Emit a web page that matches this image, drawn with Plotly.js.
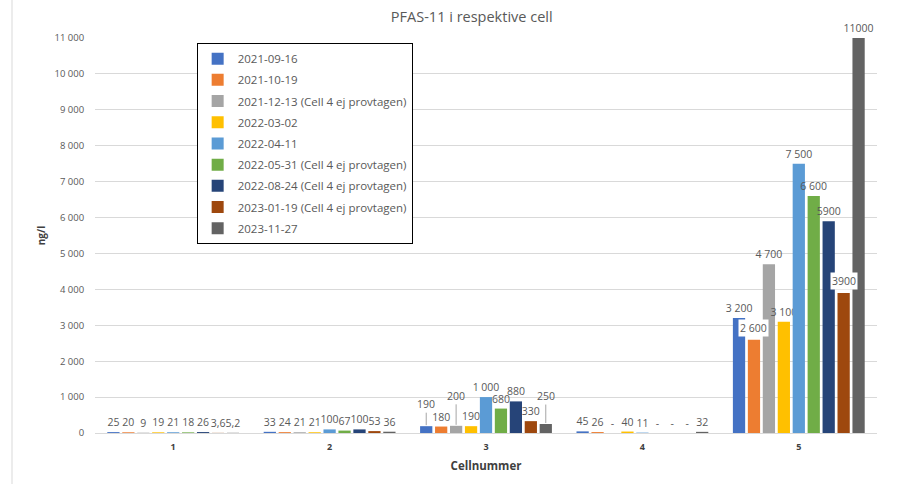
<!DOCTYPE html>
<html>
<head>
<meta charset="utf-8">
<script src="https://cdn.plot.ly/plotly-3.0.1.min.js"></script>
<style>html,body{margin:0;padding:0;background:#fff;}#chart{width:902px;height:484px;}</style>
</head>
<body>
<div id="chart"></div>
<script>
const categories = ['1', '2', '3', '4', '5'];

const seriesNames = [
  '2021-09-16',
  '2021-10-19',
  '2021-12-13 (Cell 4 ej provtagen)',
  '2022-03-02',
  '2022-04-11',
  '2022-05-31 (Cell 4 ej provtagen)',
  '2022-08-24 (Cell 4 ej provtagen)',
  '2023-01-19 (Cell 4 ej provtagen)',
  '2023-11-27'
];

const s20210916 = [25, 33, 190, 45, 3200];
const s20211019 = [20, 24, 180, 26, 2600];
const s20211213 = [9, 21, 200, 0, 4700];
const s20220302 = [19, 21, 190, 40, 3100];
const s20220411 = [21, 100, 1000, 11, 7500];
const s20220531 = [18, 67, 680, 0, 6600];
const s20220824 = [26, 100, 880, 0, 5900];
const s20230119 = [3.6, 53, 330, 0, 3900];
const s20231127 = [5.2, 36, 250, 32, 11000];

const l20210916 = ['25', '33', '190', '45', '3 200'];
const l20211019 = ['20', '24', '180', '26', '2 600'];
const l20211213 = ['9', '21', '200', '-', '4 700'];
const l20220302 = ['19', '21', '190', '40', '3 100'];
const l20220411 = ['21', '100', '1 000', '11', '7 500'];
const l20220531 = ['18', '67', '680', '-', '6 600'];
const l20220824 = ['26', '100', '880', '-', '5900'];
const l20230119 = ['3,6', '53', '330', '-', '3900'];
const l20231127 = ['5,2', '36', '250', '32', '11000'];

const yTickVals = [0, 1000, 2000, 3000, 4000, 5000, 6000, 7000, 8000, 9000, 10000, 11000];

const values = [s20210916, s20211019, s20211213, s20220302, s20220411, s20220531, s20220824, s20230119, s20231127];
const labels = [l20210916, l20211019, l20211213, l20220302, l20220411, l20220531, l20220824, l20230119, l20231127];
const colors = ['#4472C4', '#ED7D31', '#A5A5A5', '#FFC000', '#5B9BD5', '#70AD47', '#264478', '#9E480E', '#636363'];

// labels drawn with leader lines (series index, category index, pixel rise)
const leaders = [[0, 2, 22], [2, 2, 30], [8, 2, 28]];
// labels drawn on a white box (series index, category index)
const boxed = [[1, 4], [7, 4]];

const FONT = 'Open Sans, Lato, sans-serif';
const labelColor = '#595959';
const LBL = 10.5;

const isIn = (list, i, j) => list.some(l => l[0] === i && l[1] === j);

const traces = values.map((v, i) => {
  const txt = labels[i].map((t, j) => (isIn(leaders, i, j) || isIn(boxed, i, j)) ? '' : t);
  return {
    type: 'bar',
    name: seriesNames[i],
    legendgroup: 'g' + i,
    x: categories,
    y: v,
    text: txt,
    textposition: 'outside',
    textfont: {family: FONT, size: LBL, color: labelColor},
    constraintext: 'none',
    cliponaxis: false,
    marker: {color: colors[i]},
    hoverinfo: 'skip'
  };
});

const plotW = 782;
const bargap = 0.14;
const catW = plotW / categories.length;
const pitch = catW * (1 - bargap) / values.length;
const shiftOf = si => (si - (values.length - 1) / 2) * pitch;

const annotations = leaders.map(([si, ci, rise]) => ({
  x: ci,
  y: values[si][ci],
  xref: 'x', yref: 'y',
  xshift: shiftOf(si),
  text: labels[si][ci],
  showarrow: true,
  arrowhead: 0,
  arrowwidth: 1,
  arrowcolor: '#A6A6A6',
  ax: 0,
  ay: -rise,
  standoff: 1,
  font: {family: FONT, size: LBL, color: labelColor}
})).concat(boxed.map(([si, ci]) => ({
  x: ci,
  y: values[si][ci],
  xref: 'x', yref: 'y',
  xshift: shiftOf(si),
  yshift: 3,
  yanchor: 'bottom',
  text: labels[si][ci],
  showarrow: false,
  bgcolor: '#ffffff',
  borderpad: 1,
  font: {family: FONT, size: LBL, color: labelColor}
})));

const layout = {
  width: 902,
  height: 484,
  margin: {l: 95, r: 25, t: 38, b: 51},
  paper_bgcolor: '#ffffff',
  plot_bgcolor: '#ffffff',
  separators: ', ',
  font: {family: FONT, color: labelColor},
  title: {
    text: 'PFAS-11 i respektive cell',
    font: {family: FONT, size: 14.5, color: labelColor},
    x: 0.523, xanchor: 'center',
    y: 0.965, yanchor: 'middle'
  },
  barmode: 'group',
  bargap: bargap,
  bargroupgap: 0.18,
  showlegend: true,
  legend: {
    x: 0.13, y: 0.987, xanchor: 'left', yanchor: 'top',
    bgcolor: '#ffffff',
    bordercolor: '#000000',
    borderwidth: 1,
    font: {family: FONT, size: 11.5, color: labelColor},
    tracegroupgap: 2.2,
    traceorder: 'grouped'
  },
  xaxis: {
    type: 'category',
    tickfont: {family: FONT, size: 9, color: '#404040', weight: 'bold'},
    showgrid: false,
    showline: true,
    linecolor: '#D9D9D9',
    linewidth: 1,
    ticks: '',
    ticklabelstandoff: 5,
    title: {text: 'Cellnummer', font: {family: FONT, size: 11.5, color: '#404040', weight: 'bold'}, standoff: 10}
  },
  yaxis: {
    range: [0, 11000],
    tickvals: yTickVals,
    tickformat: ',d',
    tickfont: {family: FONT, size: 9.5, color: labelColor},
    showgrid: true,
    gridcolor: '#D9D9D9',
    gridwidth: 1,
    zeroline: false,
    showline: false,
    ticks: 'outside',
    ticklen: 8,
    tickcolor: 'rgba(0,0,0,0)',
    title: {text: 'ng/l', font: {family: FONT, size: 10, color: '#404040', weight: 'bold'}, standoff: 6}
  },
  annotations: annotations,
  shapes: [{
    type: 'line', xref: 'paper', yref: 'paper',
    x0: (12 - 95) / 782, x1: (12 - 95) / 782,
    y0: -51 / 395, y1: 1 + 38 / 395,
    line: {color: '#D9D9D9', width: 1}
  }]
};

Plotly.newPlot('chart', traces, layout, {displayModeBar: false, staticPlot: true});
</script>
</body>
</html>
